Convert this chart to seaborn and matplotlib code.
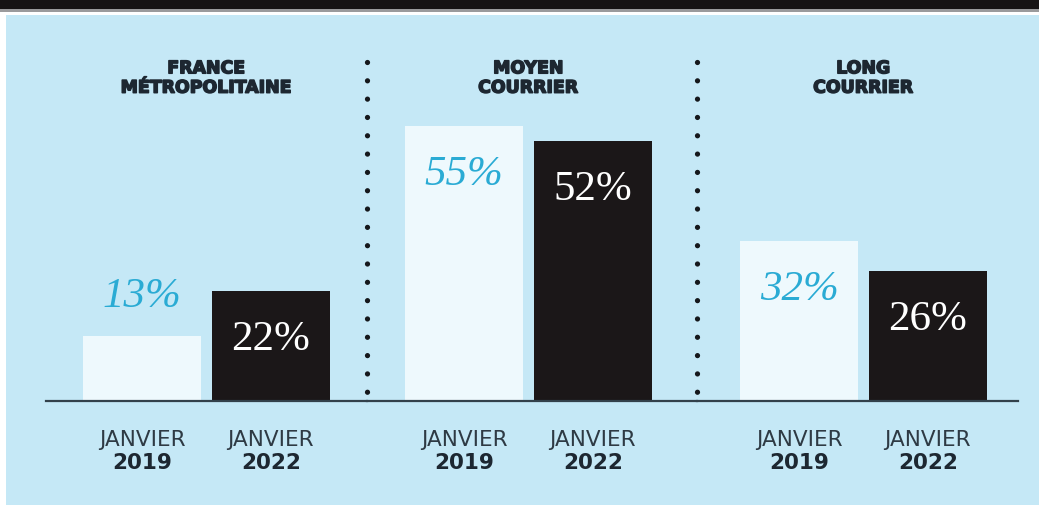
import matplotlib
matplotlib.use("Agg")
import matplotlib.pyplot as plt
from matplotlib.patches import Rectangle
from matplotlib.lines import Line2D
import matplotlib.patheffects as pe
import seaborn as sns
import pandas as pd

# ---- data ----
groups = ["FRANCE\nMÉTROPOLITAINE", "MOYEN\nCOURRIER", "LONG\nCOURRIER"]
periods = ["JANVIER 2019", "JANVIER 2022"]
tick_top = ["JANVIER", "JANVIER"]
tick_year = ["2019", "2022"]
values_2019 = [13, 55, 32]
values_2022 = [22, 52, 26]

rows = []
for g, v1, v2 in zip(groups, values_2019, values_2022):
    rows.append({"group": g, "period": periods[0], "value": v1})
    rows.append({"group": g, "period": periods[1], "value": v2})
df = pd.DataFrame(rows)

# ---- style ----
BG = "#C5E8F6"
LIGHT = "#EEF9FD"
DARK = "#1B1718"
BLUE_TXT = "#2AABD4"
INK = "#1D2731"
AXIS = "#33414B"

sns.set_theme(style="white")
plt.rcParams["font.family"] = ["DejaVu Sans"]

W, H = 1039, 505
fig = plt.figure(figsize=(W / 100, H / 100), dpi=100)
fig.patch.set_facecolor("white")

def fx(px):
    return px / W

def fy(py):
    return 1 - py / H

# background panels
fig.patches.append(Rectangle((fx(6), 0), 1 - fx(6), fy(15), transform=fig.transFigure,
                             facecolor=BG, edgecolor="none", zorder=-10))
fig.patches.append(Rectangle((0, fy(9)), 1, 1 - fy(9), transform=fig.transFigure,
                             facecolor="#161314", edgecolor="none", zorder=-10))
fig.patches.append(Rectangle((0, fy(12)), 1, fy(9) - fy(12), transform=fig.transFigure,
                             facecolor="#9a9a9c", edgecolor="none", zorder=-10))

# layout (pixels)
base_px, top_px = 401, 15
px_per_unit = 5.0
ymax = (base_px - top_px) / px_per_unit
unit_px = 128.75
axes_spans = [(46, 367, 142), (367, 697, 464), (697, 1018, 799)]

for gi, (g, (x0, x1, c0)) in enumerate(zip(groups, axes_spans)):
    ax = fig.add_axes([fx(x0), fy(base_px), fx(x1) - fx(x0), fy(top_px) - fy(base_px)])
    ax.set_facecolor("none")
    sub = df[df["group"] == g]
    sns.barplot(data=sub, x="period", y="value", hue="period", order=periods,
                hue_order=periods, palette=[LIGHT, DARK], width=0.92, saturation=1,
                legend=False, ax=ax, edgecolor="none", linewidth=0)
    ax.set_xlim(-(c0 - x0) / unit_px, (x1 - c0) / unit_px)
    ax.set_ylim(0, ymax)
    for s in ["top", "left", "right"]:
        ax.spines[s].set_visible(False)
    ax.spines["bottom"].set_color(AXIS)
    ax.spines["bottom"].set_linewidth(1.6)
    ax.set_xlabel("")
    ax.set_ylabel("")
    ax.set_yticks([])
    ax.set_xticks([0, 1])
    ax.set_xticklabels(["", ""])
    ax.tick_params(axis="x", length=0)

    # value labels
    for i, v in enumerate(sub["value"].tolist()):
        if i == 0:
            y = v + 7.8 if v < 15 else v - 9.8
            ax.text(i, y, f"{v}%", ha="center", va="center", color=BLUE_TXT,
                    fontsize=31, family="Liberation Serif", style="italic")
        else:
            ax.text(i, v - 9.8, f"{v}%", ha="center", va="center", color="white",
                    fontsize=31, family="Liberation Serif")

    # tick labels
    for i in range(2):
        ax.annotate(tick_top[i], xy=(i, 0), xycoords=("data", "axes fraction"),
                    xytext=(0, -28), textcoords="offset points", ha="center", va="center",
                    fontsize=15.5, color="#2E3A44")
        ax.annotate(tick_year[i], xy=(i, 0), xycoords=("data", "axes fraction"),
                    xytext=(0, -44.6), textcoords="offset points", ha="center", va="center",
                    fontsize=15.5, fontweight="bold", color=INK)

    # group title
    ax.text(0.5, (base_px - 78) / (base_px - top_px), g, transform=ax.get_xaxis_transform(),
            ha="center", va="center", fontsize=12.5, fontweight="bold", color=INK,
            linespacing=1.1,
            path_effects=[pe.withStroke(linewidth=1.1, foreground=INK)])

# dotted separators
for xs in [367, 697]:
    fig.add_artist(Line2D([fx(xs), fx(xs)], [fy(62), fy(399)], transform=fig.transFigure,
                          color="#15181c", linewidth=3.8, linestyle=(0, (0.001, 3.47)),
                          dash_capstyle="round", zorder=5))

fig.savefig("out.png", dpi=100, facecolor=fig.get_facecolor())
